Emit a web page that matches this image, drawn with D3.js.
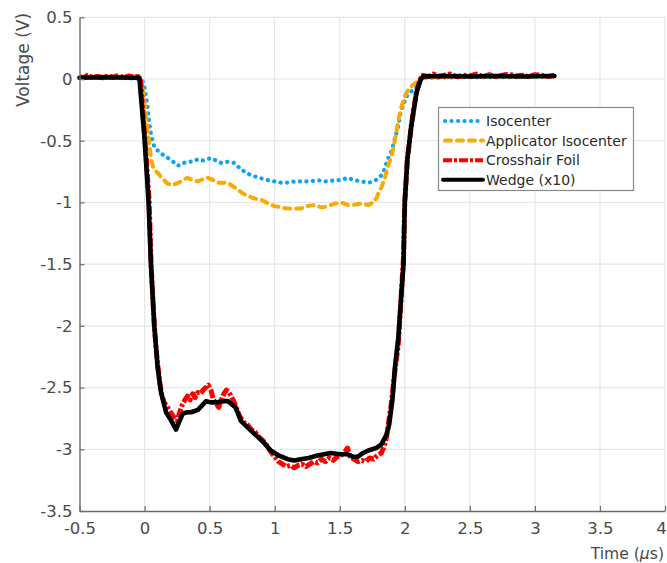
<!DOCTYPE html>
<html>
<head>
<meta charset="utf-8">
<script src="https://cdn.jsdelivr.net/npm/d3@7"></script>
<style>
  body { margin: 0; background: #fff; }
  svg { display: block; font-family: "DejaVu Sans", sans-serif; }
</style>
</head>
<body>
<svg id="chart" width="667" height="563"></svg>
<script>
// time in microseconds, voltage in V
const isoT = [-0.5, -0.2, -0.02, 0.0, 0.02, 0.037, 0.05, 0.075, 0.11, 0.15, 0.18, 0.22, 0.25, 0.27, 0.3, 0.33, 0.37, 0.41, 0.45, 0.51, 0.55, 0.59, 0.64, 0.69, 0.74, 0.78, 0.82, 0.88, 0.95, 1.0, 1.05, 1.1, 1.15, 1.2, 1.27, 1.33, 1.4, 1.46, 1.51, 1.56, 1.61, 1.67, 1.72, 1.76, 1.79, 1.82, 1.84, 1.87, 1.9, 1.92, 1.95, 1.97, 1.99, 2.02, 2.05, 2.08, 2.12, 2.16, 2.5, 2.8, 3.15];
const isoV = [0.01, 0.01, 0.0, -0.07, -0.2, -0.36, -0.45, -0.55, -0.59, -0.62, -0.64, -0.67, -0.7, -0.7, -0.68, -0.67, -0.67, -0.65, -0.66, -0.64, -0.66, -0.68, -0.67, -0.68, -0.73, -0.76, -0.78, -0.8, -0.82, -0.83, -0.84, -0.84, -0.83, -0.83, -0.83, -0.82, -0.83, -0.82, -0.82, -0.8, -0.82, -0.83, -0.84, -0.83, -0.81, -0.78, -0.74, -0.65, -0.58, -0.5, -0.38, -0.26, -0.2, -0.13, -0.1, -0.08, -0.02, 0.01, 0.015, 0.015, 0.02];

const appT = [-0.5, -0.2, -0.05, -0.02, 0.0, 0.02, 0.04, 0.05, 0.065, 0.09, 0.11, 0.13, 0.17, 0.2, 0.24, 0.28, 0.31, 0.33, 0.37, 0.41, 0.45, 0.49, 0.53, 0.56, 0.6, 0.64, 0.68, 0.72, 0.76, 0.8, 0.85, 0.9, 0.95, 1.0, 1.05, 1.1, 1.15, 1.2, 1.25, 1.31, 1.36, 1.41, 1.46, 1.51, 1.56, 1.61, 1.66, 1.72, 1.76, 1.78, 1.8, 1.82, 1.85, 1.87, 1.9, 1.92, 1.95, 1.97, 2.0, 2.03, 2.06, 2.1, 2.14, 2.5, 3.15];
const appV = [0.01, 0.01, 0.01, -0.02, -0.2, -0.38, -0.55, -0.65, -0.71, -0.75, -0.77, -0.8, -0.84, -0.86, -0.85, -0.83, -0.81, -0.8, -0.82, -0.83, -0.81, -0.8, -0.82, -0.84, -0.84, -0.84, -0.87, -0.9, -0.93, -0.95, -0.97, -0.98, -1.01, -1.03, -1.04, -1.05, -1.05, -1.05, -1.03, -1.02, -1.04, -1.03, -1.01, -1.0, -1.02, -1.02, -1.01, -1.02, -1.0, -0.97, -0.92, -0.88, -0.79, -0.71, -0.62, -0.52, -0.34, -0.24, -0.14, -0.08, -0.05, -0.02, 0.01, 0.02, 0.02];

const foilT = [-0.5, -0.47, -0.44, -0.4, -0.36, -0.32, -0.28, -0.24, -0.2, -0.16, -0.12, -0.08, -0.05, -0.03, 0.0, 0.035, 0.05, 0.065, 0.075, 0.09, 0.1, 0.115, 0.13, 0.15, 0.17, 0.2, 0.225, 0.25, 0.27, 0.29, 0.31, 0.33, 0.35, 0.37, 0.39, 0.41, 0.43, 0.45, 0.47, 0.49, 0.51, 0.53, 0.55, 0.57, 0.59, 0.61, 0.63, 0.65, 0.67, 0.69, 0.71, 0.73, 0.76, 0.79, 0.82, 0.85, 0.88, 0.91, 0.94, 0.97, 1.0, 1.03, 1.06, 1.09, 1.12, 1.15, 1.18, 1.21, 1.24, 1.27, 1.3, 1.33, 1.36, 1.39, 1.42, 1.45, 1.48, 1.51, 1.54, 1.56, 1.58, 1.61, 1.64, 1.67, 1.7, 1.73, 1.76, 1.79, 1.82, 1.84, 1.86, 1.88, 1.9, 1.92, 1.95, 1.97, 1.99, 2.0, 2.02, 2.05, 2.09, 2.12, 2.14, 2.18, 2.22, 2.26, 2.3, 2.35, 2.4, 2.45, 2.5, 2.55, 2.6, 2.65, 2.7, 2.75, 2.8, 2.85, 2.9, 2.95, 3.0, 3.05, 3.1, 3.15];
const foilV = [0.02, 0.01, 0.03, 0.015, 0.02, 0.01, 0.025, 0.015, 0.03, 0.01, 0.025, 0.015, 0.02, -0.02, -0.45, -0.98, -1.5, -1.8, -2.0, -2.2, -2.3, -2.45, -2.55, -2.62, -2.65, -2.7, -2.74, -2.77, -2.7, -2.64, -2.6, -2.57, -2.6, -2.55, -2.58, -2.54, -2.55, -2.52, -2.5, -2.48, -2.52, -2.6, -2.63, -2.66, -2.6, -2.55, -2.52, -2.54, -2.58, -2.62, -2.68, -2.73, -2.78, -2.8, -2.84, -2.86, -2.9, -2.93, -2.97, -3.02, -3.06, -3.1, -3.12, -3.14, -3.13, -3.15, -3.13, -3.12, -3.14, -3.12, -3.1, -3.11, -3.08, -3.1, -3.07, -3.09, -3.06, -3.05, -3.02, -2.99, -3.06, -3.08, -3.1, -3.09, -3.1, -3.07, -3.08, -3.05, -3.03, -2.98, -2.9, -2.75, -2.6, -2.4, -2.15, -1.8, -1.45, -1.0, -0.65, -0.38, -0.1, 0.0, 0.03, 0.02, 0.04, 0.02, 0.03, 0.04, 0.02, 0.03, 0.025, 0.04, 0.02, 0.035, 0.02, 0.03, 0.04, 0.025, 0.03, 0.02, 0.035, 0.03, 0.02, 0.03];

const wedgeT = [-0.5, -0.3, -0.1, -0.04, 0.0, 0.03, 0.05, 0.075, 0.1, 0.127, 0.165, 0.2, 0.242, 0.265, 0.294, 0.33, 0.358, 0.41, 0.473, 0.51, 0.55, 0.6, 0.64, 0.7, 0.74, 0.8, 0.87, 0.92, 0.97, 1.03, 1.1, 1.15, 1.2, 1.26, 1.33, 1.38, 1.43, 1.5, 1.56, 1.6, 1.64, 1.68, 1.72, 1.78, 1.82, 1.86, 1.88, 1.905, 1.925, 1.95, 1.97, 1.99, 2.0, 2.02, 2.05, 2.09, 2.12, 2.14, 2.3, 2.5, 2.7, 2.9, 3.15];
const wedgeV = [0.01, 0.015, 0.01, 0.01, -0.48, -0.98, -1.52, -2.0, -2.33, -2.54, -2.7, -2.76, -2.84, -2.78, -2.71, -2.7, -2.7, -2.68, -2.61, -2.62, -2.62, -2.61, -2.61, -2.66, -2.77, -2.83, -2.9, -2.95, -3.01, -3.05, -3.08, -3.09, -3.08, -3.07, -3.05, -3.04, -3.03, -3.04, -3.04, -3.06, -3.06, -3.03, -3.01, -2.99, -2.96, -2.88, -2.8, -2.6, -2.33, -2.1, -1.8, -1.5, -1.0, -0.65, -0.38, -0.11, -0.01, 0.02, 0.025, 0.02, 0.025, 0.02, 0.025];

const xTicks = [-0.5, 0, 0.5, 1, 1.5, 2, 2.5, 3, 3.5, 4];
const yTicks = [0.5, 0, -0.5, -1, -1.5, -2, -2.5, -3, -3.5];

const series = [
  { name: "Isocenter", t: isoT, v: isoV, color: "#0aa3f5", width: 4.2, dash: "0.1 6.4", cap: "round" },
  { name: "Applicator Isocenter", t: appT, v: appV, color: "#f8ab00", width: 4, dash: "6 6", cap: "round" },
  { name: "Crosshair Foil", t: foilT, v: foilV, color: "#ff0000", width: 5, dash: "9 2 3 2", cap: "butt" },
  { name: "Wedge (x10)", t: wedgeT, v: wedgeV, color: "#000000", width: 4.6, dash: null, cap: "round" },
];

const svg = d3.select("#chart");
const plotLeft = 79.5, plotRight = 665, plotTop = 17.3, plotBottom = 511;

const x = d3.scaleLinear().domain([-0.5, 4]).range([plotLeft, plotRight]);
const y = d3.scaleLinear().domain([-3.5, 0.5]).range([plotBottom, plotTop]);

// grid
svg.append("g")
  .selectAll("line")
  .data(xTicks.slice(1))
  .join("line")
  .attr("x1", (d) => x(d)).attr("x2", (d) => x(d))
  .attr("y1", plotTop).attr("y2", plotBottom)
  .attr("stroke", "#e6e6e6").attr("stroke-width", 1.2);
svg.append("g")
  .selectAll("line")
  .data(yTicks.slice(0, -1))
  .join("line")
  .attr("x1", plotLeft).attr("x2", plotRight)
  .attr("y1", (d) => y(d)).attr("y2", (d) => y(d))
  .attr("stroke", "#e6e6e6").attr("stroke-width", 1.2);

// lines
const line = d3.line().x((d) => x(d[0])).y((d) => y(d[1]));
const plot = svg.append("g");
for (const s of series) {
  const pts = s.t.map((t, i) => [t, s.v[i]]);
  plot.append("path")
    .attr("d", line(pts))
    .attr("fill", "none")
    .attr("stroke", s.color)
    .attr("stroke-width", s.width)
    .attr("stroke-linecap", s.cap)
    .attr("stroke-linejoin", "round")
    .attr("stroke-dasharray", s.dash);
}

// axes (MATLAB style, ticks inward)
const fmt = (d) => (d === 0 ? "0" : String(d));
const xAxis = svg.append("g")
  .attr("transform", `translate(0, ${plotBottom})`)
  .call(d3.axisBottom(x).tickValues(xTicks).tickFormat(fmt).tickSize(-5).tickSizeOuter(0).tickPadding(11));
const yAxis = svg.append("g")
  .attr("transform", `translate(${plotLeft}, 0)`)
  .call(d3.axisLeft(y).tickValues(yTicks).tickFormat(fmt).tickSize(-5).tickSizeOuter(0).tickPadding(7));
for (const a of [xAxis, yAxis]) {
  a.select(".domain").attr("stroke", "#6b6b6b").attr("stroke-width", 1.4);
  a.selectAll(".tick line").attr("stroke", "#6b6b6b").attr("stroke-width", 1.2);
  a.selectAll(".tick text")
    .attr("fill", "#4a4a4a")
    .style("font-size", "16.5px")
    .style("font-family", "'DejaVu Sans', sans-serif");
}
// last x label sits at the page edge
xAxis.selectAll(".tick text").filter((d) => d === 4).attr("dx", "-4");

// axis titles
svg.append("text")
  .attr("transform", "translate(29, 60) rotate(-90)")
  .attr("text-anchor", "middle")
  .attr("fill", "#4a4a4a")
  .style("font-size", "17px")
  .text("Voltage (V)");
const xt = svg.append("text")
  .attr("x", 664).attr("y", 559)
  .attr("text-anchor", "end")
  .attr("fill", "#4a4a4a")
  .style("font-size", "15.6px");
xt.append("tspan").text("Time (");
xt.append("tspan").style("font-style", "italic").text("μ");
xt.append("tspan").text("s)");

// legend
const lg = svg.append("g");
lg.append("rect")
  .attr("x", 438.5).attr("y", 107.5)
  .attr("width", 195).attr("height", 83)
  .attr("fill", "#fff")
  .attr("stroke", "#8a8a8a").attr("stroke-width", 1.2);
series.forEach((s, i) => {
  const cy = 121 + i * 19.6;
  lg.append("line")
    .attr("x1", s.cap === "round" && s.dash ? 445 : 443).attr("x2", 483)
    .attr("y1", cy).attr("y2", cy)
    .attr("stroke", s.color)
    .attr("stroke-width", Math.min(s.width, 4))
    .attr("stroke-linecap", s.cap)
    .attr("stroke-dasharray", s.dash);
  lg.append("text")
    .attr("x", 486).attr("y", cy)
    .attr("dy", "0.35em")
    .attr("fill", "#2a2a2a")
    .style("font-size", "14px")
    .text(s.name);
});
</script>
</body>
</html>
